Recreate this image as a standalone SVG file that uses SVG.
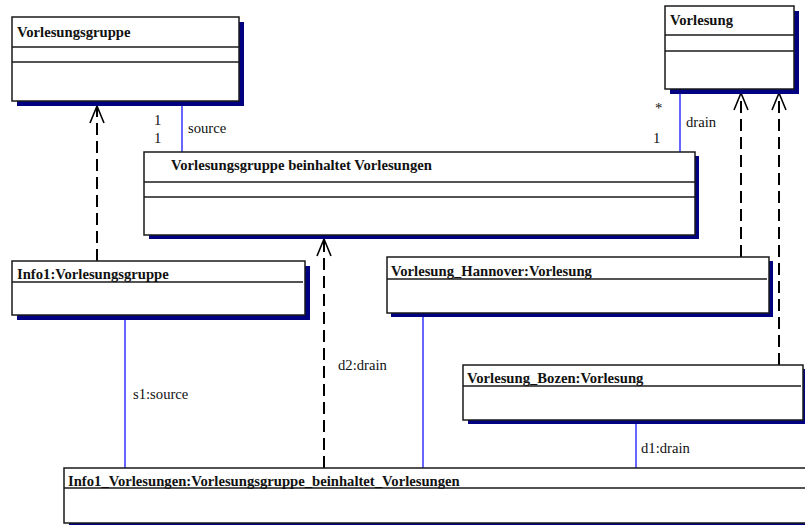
<svg xmlns="http://www.w3.org/2000/svg" width="805" height="525" viewBox="0 0 805 525">
  <style>
    .shadow { fill: #000080; }
    .box { fill: #ffffff; stroke: #1a1a1a; stroke-width: 1.5; }
    .sep { stroke: #1a1a1a; stroke-width: 1.5; }
    .title { font-family: "Liberation Serif", "Times New Roman", serif; font-size: 14.67px; font-weight: bold; fill: #111; }
    .label { font-family: "Liberation Serif", "Times New Roman", serif; font-size: 14.67px; fill: #111; }
    .link { stroke: #0000ff; stroke-width: 1.2; fill: none; }
    .dep { stroke: #000; stroke-width: 2; stroke-dasharray: 12 6; fill: none; }
    .head { stroke: #000; stroke-width: 1.6; fill: none; }
  </style>

  <!-- connectors -->
  <g id="connectors">
    <!-- links between associations and classes -->
    <line class="link" x1="182" y1="106" x2="182" y2="152"/>
    <line class="link" x1="680" y1="93" x2="680" y2="152"/>
    <line class="link" x1="125" y1="320" x2="125" y2="468"/>
    <line class="link" x1="423" y1="317" x2="423" y2="468"/>
    <line class="link" x1="636" y1="424" x2="636" y2="468"/>

    <!-- instance-of dependencies -->
    <line class="dep" x1="97" y1="261" x2="97" y2="108"/>
    <polyline class="head" points="90,123 97,106 104,123"/>
    <line class="dep" x1="324" y1="468" x2="324" y2="241"/>
    <polyline class="head" points="317,256 324,239 331,256"/>
    <line class="dep" x1="741" y1="257" x2="741" y2="95"/>
    <polyline class="head" points="734,110 741,93 748,110"/>
    <line class="dep" x1="779" y1="365" x2="779" y2="95"/>
    <polyline class="head" points="772,110 779,93 786,110"/>

    <!-- multiplicities and role names -->
    <text class="label" x="154" y="125">1</text>
    <text class="label" x="154" y="143">1</text>
    <text class="label" x="188" y="133">source</text>
    <text class="label" x="655" y="113">*</text>
    <text class="label" x="686" y="127">drain</text>
    <text class="label" x="653" y="143">1</text>
    <text class="label" x="133" y="399">s1:source</text>
    <text class="label" x="338" y="370">d2:drain</text>
    <text class="label" x="641" y="453">d1:drain</text>
  </g>

  <!-- class Vorlesungsgruppe -->
  <g id="Vorlesungsgruppe">
    <rect class="shadow" x="17" y="22" width="227" height="84"/>
    <rect class="box" x="12" y="17" width="227" height="84"/>
    <line class="sep" x1="12" y1="47" x2="239" y2="47"/>
    <line class="sep" x1="12" y1="62" x2="239" y2="62"/>
    <text class="title" x="17" y="37">Vorlesungsgruppe</text>
  </g>

  <!-- class Vorlesung -->
  <g id="Vorlesung">
    <rect class="shadow" x="670" y="11" width="129" height="83"/>
    <rect class="box" x="665" y="6" width="129" height="83"/>
    <line class="sep" x1="665" y1="35" x2="794" y2="35"/>
    <line class="sep" x1="665" y1="51" x2="794" y2="51"/>
    <text class="title" x="670" y="25">Vorlesung</text>
  </g>

  <!-- association class -->
  <g id="VorlesungsgruppeBeinhaltetVorlesungen">
    <rect class="shadow" x="149" y="156" width="550" height="83"/>
    <rect class="box" x="144" y="152" width="551" height="83"/>
    <line class="sep" x1="144" y1="182" x2="695" y2="182"/>
    <line class="sep" x1="144" y1="197" x2="695" y2="197"/>
    <text class="title" x="171" y="170">Vorlesungsgruppe beinhaltet Vorlesungen</text>
  </g>

  <!-- object Info1 -->
  <g id="Info1">
    <rect class="shadow" x="17" y="266" width="293" height="54"/>
    <rect class="box" x="12" y="261" width="293" height="54"/>
    <line class="sep" x1="12" y1="282" x2="303" y2="282"/>
    <text class="title" x="17" y="279">Info1:Vorlesungsgruppe</text>
  </g>

  <!-- object Vorlesung_Hannover -->
  <g id="Vorlesung_Hannover">
    <rect class="shadow" x="391" y="261" width="382" height="56"/>
    <rect class="box" x="387" y="257" width="382" height="56"/>
    <line class="sep" x1="387" y1="279" x2="767" y2="279"/>
    <text class="title" x="391" y="276">Vorlesung_Hannover:Vorlesung</text>
  </g>

  <!-- object Vorlesung_Bozen -->
  <g id="Vorlesung_Bozen">
    <rect class="shadow" x="468" y="369" width="340" height="55"/>
    <rect class="box" x="463" y="365" width="340" height="55"/>
    <line class="sep" x1="463" y1="386" x2="801" y2="386"/>
    <text class="title" x="467" y="383">Vorlesung_Bozen:Vorlesung</text>
  </g>

  <!-- link object Info1_Vorlesungen -->
  <g id="Info1_Vorlesungen">
    <rect class="shadow" x="69" y="472" width="760" height="55"/>
    <rect class="box" x="64" y="468" width="760" height="55"/>
    <line class="sep" x1="64" y1="488" x2="824" y2="488"/>
    <text class="title" x="68" y="486">Info1_Vorlesungen:Vorlesungsgruppe_beinhaltet_Vorlesungen</text>
  </g>
</svg>
